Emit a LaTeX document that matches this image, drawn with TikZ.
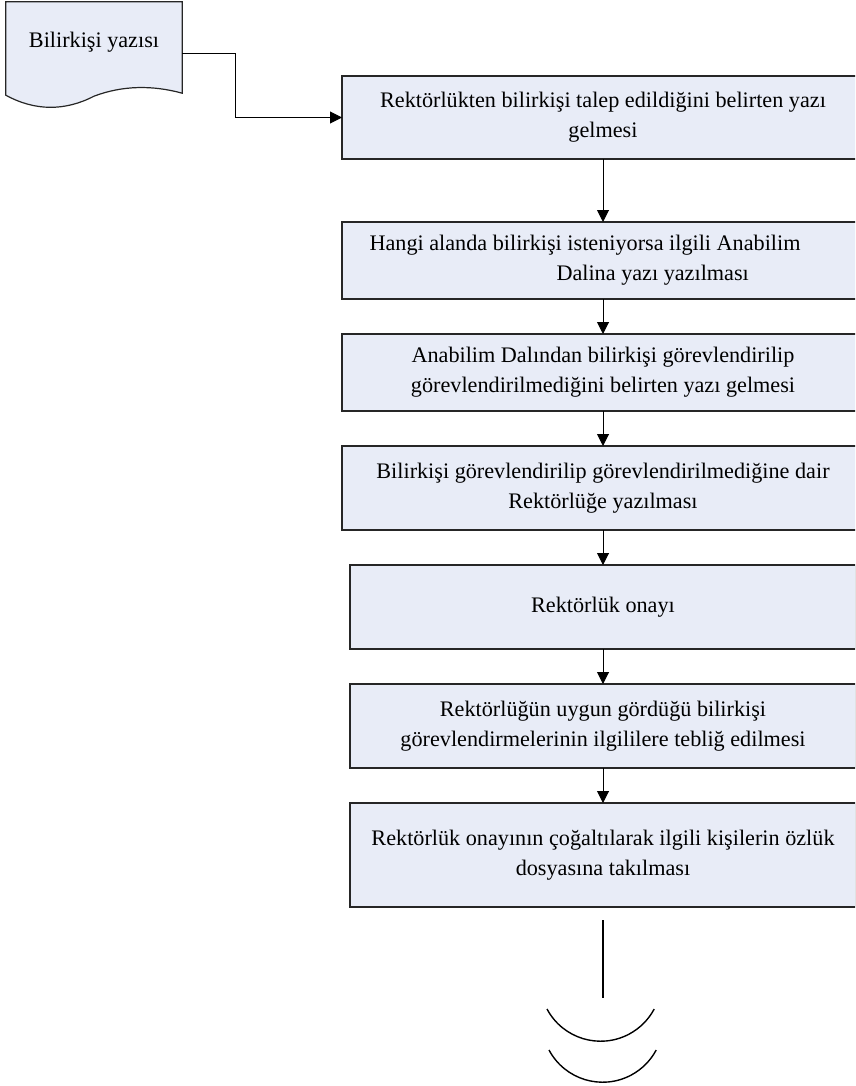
\documentclass[tikz,border=0pt]{standalone}
\usepackage{fontspec}
\setmainfont{Liberation Serif}
\definecolor{boxfill}{RGB}{232,236,247}
\usetikzlibrary{
    arrows.meta,
    positioning,
    calc,
    backgrounds
}
\tikzstyle{stepbox} = [
    rectangle,
    draw=black!85,
    line width=1.2pt,
    outer sep=0pt,
    fill=boxfill,
    minimum width=522pt,
    text centered,
    align=center,
    font=\fontsize{22.2}{30}\selectfont
]
\tikzstyle{docbox} = [
    rectangle,
    minimum width=176pt,
    inner sep=0pt,
    text height=46pt,
    text depth=47pt,
    font=\fontsize{22.2}{30}\selectfont
]
\tikzstyle{docline} = [
    draw=black!85,
    line width=1.2pt,
    fill=boxfill
]
\tikzstyle{arrow} = [
    -{Triangle[length=12pt,width=12pt]},
    line width=1pt,
    draw=black
]
\tikzstyle{endline} = [
    line width=1.4pt,
    draw=black
]

\begin{document}
\begin{tikzpicture}[x=1pt, y=-1pt]
        \clip (0,0) rectangle (855,1086);

        % Incoming document
        \node[docbox] (doc) at (94,48.5) {Bilirkişi yazısı};
        \begin{scope}[on background layer]
            \draw[docline] (doc.south west) -- (doc.north west) -- (doc.north east)
                -- ($(doc.south east)+(0,-2)$)
                .. controls ($(doc.south)+(59,-10)$) and ($(doc.south)+(29,-10)$) .. ($(doc.south)+(0,1)$)
                .. controls ($(doc.south)+(-29,16)$) and ($(doc.south)+(-59,16)$) .. (doc.south west) -- cycle;
        \end{scope}

        % Process steps
        \node[stepbox, minimum height=83pt] (b1) at (603,117.5)
            {Rektörlükten bilirkişi talep edildiğini belirten yazı\\gelmesi};
        \node[stepbox, minimum height=77pt, align=left, below=63pt of b1] (b2)
            {Hangi alanda bilirkişi isteniyorsa ilgili Anabilim\hspace*{36pt}\\\hspace*{187pt}Dalina yazı yazılması};
        \node[stepbox, minimum height=77pt, below=35pt of b2] (b3)
            {Anabilim Dalından bilirkişi görevlendirilip\\görevlendirilmediğini belirten yazı gelmesi};
        \node[stepbox, minimum height=84pt, below=35pt of b3] (b4)
            {Bilirkişi görevlendirilip görevlendirilmediğine dair\\Rektörlüğe yazılması};
        \node[stepbox, minimum width=506pt, minimum height=84pt, below=35pt of b4] (b5)
            {Rektörlük onayı};
        \node[stepbox, minimum width=506pt, minimum height=84pt, below=35pt of b5] (b6)
            {Rektörlüğün uygun gördüğü bilirkişi\\görevlendirmelerinin ilgililere tebliğ edilmesi};
        \node[stepbox, minimum width=506pt, minimum height=104pt, below=35pt of b6] (b7)
            {Rektörlük onayının çoğaltılarak ilgili kişilerin özlük\\dosyasına takılması};

        % Arrows
        \coordinate (docout) at ($(doc.east)+(0,5.5)$);
        \draw[arrow] (docout) -- ++(53,0) |- (b1.west);
        \draw[arrow] (b1) -- (b2);
        \draw[arrow] (b2) -- (b3);
        \draw[arrow] (b3) -- (b4);
        \draw[arrow] (b4) -- (b5);
        \draw[arrow] (b5) -- (b6);
        \draw[arrow] (b6) -- (b7);

        % End of flow
        \coordinate (endtop) at ($(b7.south)+(0,13)$);
        \coordinate (endbot) at ($(b7.south)+(0,91)$);
        \draw[endline] (endtop) -- (endbot);
        \draw[endline] ($(endbot)+(-56,11)$) arc[start angle=208, end angle=332, radius=60.7pt];
        \draw[endline] ($(endbot)+(-54,52)$) arc[start angle=208, end angle=332, radius=60.7pt];
    \end{tikzpicture}
\end{document}
